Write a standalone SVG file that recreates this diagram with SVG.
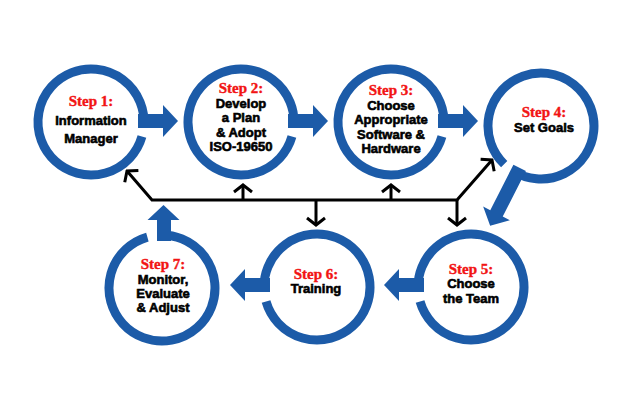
<svg xmlns="http://www.w3.org/2000/svg" width="635" height="400" viewBox="0 0 635 400">
<style>
.ring{fill:none;stroke:#1c5ba8;stroke-width:9}
.arr{fill:#1c5ba8}
.st{font-family:"Liberation Serif","Times New Roman",serif;font-weight:bold;font-size:15px;fill:#f21414;stroke:#f21414;stroke-width:0.4;text-anchor:middle}
.tx{font-family:"Liberation Sans",Arial,sans-serif;font-weight:bold;font-size:13px;fill:#000;stroke:#000;stroke-width:0.6;text-anchor:middle}
.con{fill:none;stroke:#000;stroke-width:3;stroke-linejoin:miter}
</style>
<defs>
<marker id="chev" markerUnits="userSpaceOnUse" viewBox="-12 -12 14 24" refX="0" refY="0" markerWidth="14" markerHeight="24" orient="auto-start-reverse">
<path d="M-7,-9 L0,0 L-7,9" fill="none" stroke="#000" stroke-width="3"/>
</marker>
<path id="ringp" class="ring" d="M50.95,14.61 A53,53 0 1 1 52.80,4.62"/>
<polygon id="arrS" class="arr" points="47,-7 72,-7 72,-16 87,0 72,16 72,7 47,7"/>
</defs>
<rect width="635" height="400" fill="#fff"/>

<g id="connectors">
<path class="con" d="M127,171 L152,200 L457,200 L492,160" marker-start="url(#chev)" marker-end="url(#chev)"/>
<path class="con" d="M243,200 V185" marker-end="url(#chev)"/>
<path class="con" d="M391,200 V185" marker-end="url(#chev)"/>
<path class="con" d="M316,200 V225" marker-end="url(#chev)"/>
<path class="con" d="M457,200 V225" marker-end="url(#chev)"/>
</g>

<g id="step1">
<g transform="translate(91,122)"><use href="#ringp"/><use href="#arrS" transform="translate(0,-1)"/></g>
<text class="st" x="91" y="106">Step 1:</text>
<text class="tx" x="91" y="125">Information</text>
<text class="tx" x="91" y="143">Manager</text>
</g>

<g id="step2">
<g transform="translate(241,122)"><use href="#ringp"/><use href="#arrS" transform="translate(0,-1)"/></g>
<text class="st" x="241" y="93">Step 2:</text>
<text class="tx" x="241" y="107.5">Develop</text>
<text class="tx" x="241" y="122">a Plan</text>
<text class="tx" x="241" y="136.5">&amp; Adopt</text>
<text class="tx" x="241" y="151">ISO-19650</text>
</g>

<g id="step3">
<g transform="translate(391,122)"><use href="#ringp"/><use href="#arrS" transform="translate(0,-1)"/></g>
<text class="st" x="391" y="95">Step 3:</text>
<text class="tx" x="391" y="109.5">Choose</text>
<text class="tx" x="391" y="124">Appropriate</text>
<text class="tx" x="391" y="138.5">Software &amp;</text>
<text class="tx" x="391" y="153">Hardware</text>
</g>

<g id="step4">
<g transform="translate(541,126) rotate(117)">
<path class="ring" d="M50.69,15.50 A53,53 0 1 1 52.80,4.62"/>
<polygon class="arr" points="47,-7 98,-7 98,-15 112,0 98,15 98,7 47,7"/>
</g>
<text class="st" x="544" y="117">Step 4:</text>
<text class="tx" x="544" y="132">Set Goals</text>
</g>

<g id="step5">
<g transform="translate(471,287) scale(-1,1)"><use href="#ringp"/><use href="#arrS" transform="translate(0,-2)"/></g>
<text class="st" x="471" y="274">Step 5:</text>
<text class="tx" x="471" y="288">Choose</text>
<text class="tx" x="471" y="303">the Team</text>
</g>

<g id="step6">
<g transform="translate(317,287) scale(-1,1)"><use href="#ringp"/><use href="#arrS" transform="translate(0,-2)"/></g>
<text class="st" x="316" y="279">Step 6:</text>
<text class="tx" x="316" y="293">Training</text>
</g>

<g id="step7">
<g transform="translate(162,288) rotate(-90) scale(1,-1)">
<use href="#ringp"/>
<polygon class="arr" points="47,-9 68,-9 68,-17.5 83,-1.5 68,14.5 68,5 47,5"/>
</g>
<text class="st" x="163" y="269">Step 7:</text>
<text class="tx" x="163" y="283.5">Monitor,</text>
<text class="tx" x="163" y="298">Evaluate</text>
<text class="tx" x="163" y="312">&amp; Adjust</text>
</g>
</svg>
